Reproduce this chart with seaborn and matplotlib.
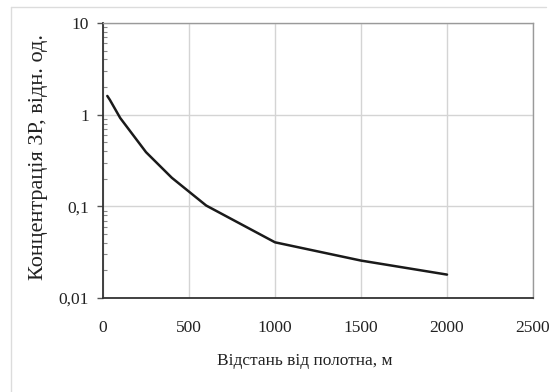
import matplotlib
matplotlib.use("Agg")
import matplotlib.pyplot as plt
import seaborn as sns
import pandas as pd
from matplotlib.ticker import FixedLocator, FixedFormatter, LogLocator, NullFormatter
from matplotlib.lines import Line2D

distance = [25, 40, 100, 250, 400, 600, 1000, 1500, 2000]
concentration = [1.6, 1.45, 0.92, 0.39, 0.205, 0.102, 0.0405, 0.0256, 0.018]
x_ticks = [0, 500, 1000, 1500, 2000, 2500]
y_ticks = [0.01, 0.1, 1, 10]
y_tick_labels = ["0,01", "0,1", "1", "10"]
x_label = "Відстань від полотна, м"
y_label = "Концентрація ЗР, відн. од."

sns.set_theme(style="white")
plt.rcParams['font.family'] = ['Liberation Serif', 'DejaVu Serif']

fig = plt.figure(figsize=(5.5, 3.92), dpi=100)
ax = fig.add_axes([103/550, 1 - 298/392, (533-103)/550, (298-23)/392])

df = pd.DataFrame({"d": distance, "c": concentration})
sns.lineplot(data=df, x="d", y="c", ax=ax, color="#1a1a1a", linewidth=1.8)

ax.set_yscale("log")
ax.set_xlim(0, 2500)
ax.set_ylim(0.01, 10)
ax.xaxis.set_major_locator(FixedLocator(x_ticks))
ax.set_xticklabels([str(t) for t in x_ticks])
ax.yaxis.set_major_locator(FixedLocator(y_ticks))
ax.yaxis.set_major_formatter(FixedFormatter(y_tick_labels))
ax.yaxis.set_minor_locator(LogLocator(base=10, subs=[2, 3, 4, 5, 6, 7, 8, 9]))
ax.yaxis.set_minor_formatter(NullFormatter())

ax.grid(True, which="major", color="#d4d4d4", linewidth=1.0)
for side in ["left", "bottom"]:
    ax.spines[side].set_color("#333333")
    ax.spines[side].set_linewidth(1.3)
for side in ["top", "right"]:
    ax.spines[side].set_color("#9a9a9a")
    ax.spines[side].set_linewidth(1.0)

ax.tick_params(axis="y", which="major", direction="out", length=4, width=1, color="#555555",
               labelsize=12.5, pad=6, left=True)
ax.tick_params(axis="y", which="minor", direction="in", length=3, width=0.8, color="#888888", left=True)
ax.tick_params(axis="x", which="major", length=0, labelsize=12.5, pad=16, bottom=True)
for lbl in ax.get_xticklabels() + ax.get_yticklabels():
    lbl.set_color("#222222")

ax.set_xlabel(x_label, fontsize=12.5, color="#222222")
ax.set_ylabel(y_label, fontsize=16, color="#222222")
ax.xaxis.set_label_coords((305-103)/(533-103), -(361-298)/(298-23), transform=ax.transAxes)
ax.yaxis.set_label_coords(-(103-39)/(533-103), 0.5 - (157-160.5)/(298-23), transform=ax.transAxes)
ax.xaxis.label.set_va("center")
ax.yaxis.label.set_va("center")

fig.add_artist(Line2D([11/550, 546/550], [1-7/392, 1-7/392], transform=fig.transFigure,
                      color="#dcdcdc", linewidth=1.0))
fig.add_artist(Line2D([11/550, 11/550], [0, 1-7/392], transform=fig.transFigure,
                      color="#dcdcdc", linewidth=1.0))

fig.savefig("out.png", dpi=100)
